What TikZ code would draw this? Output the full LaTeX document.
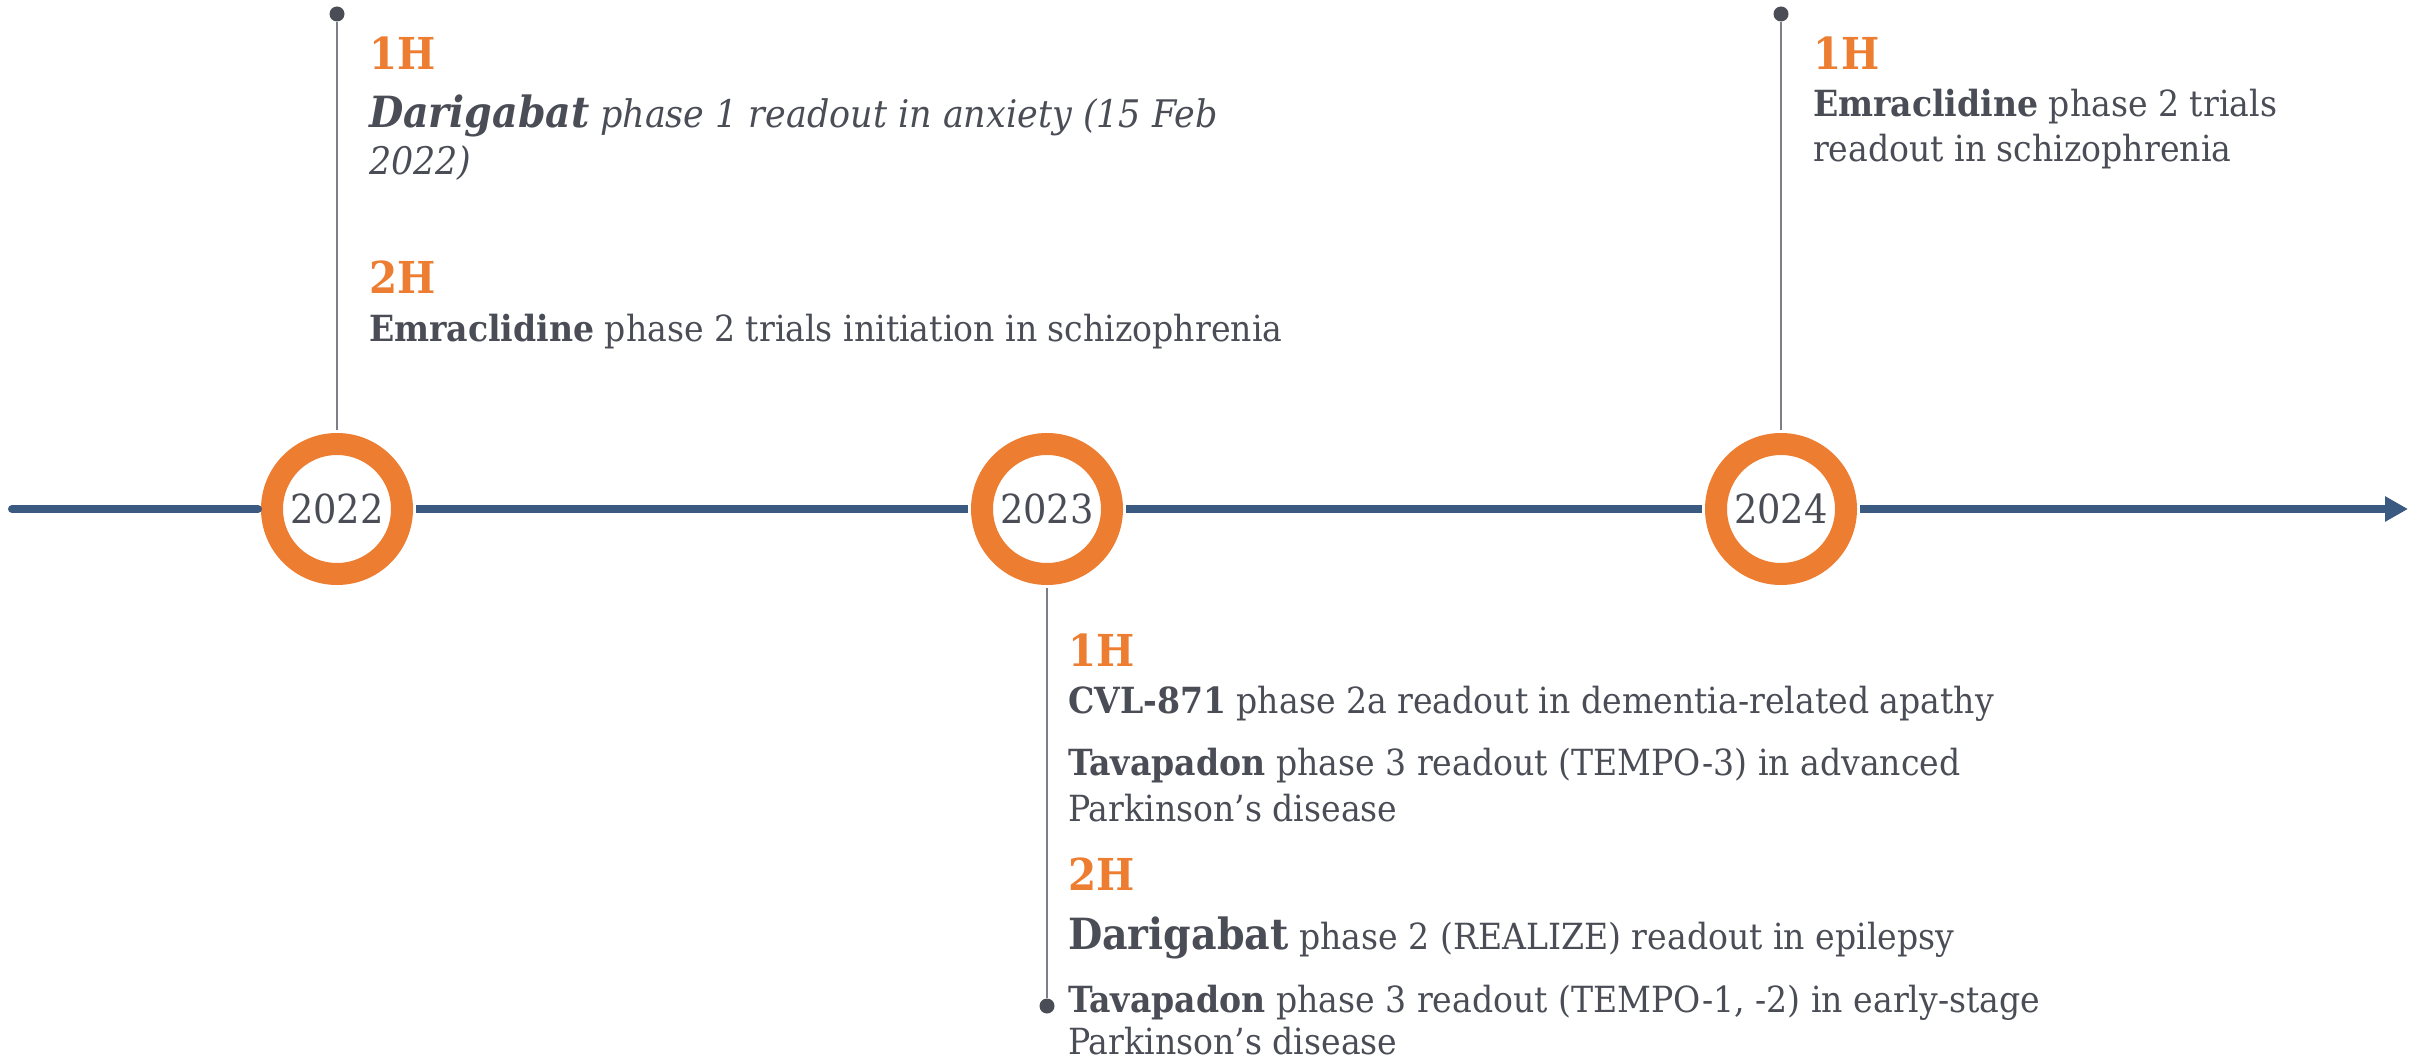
\documentclass[tikz,border=0pt]{standalone}
\usepackage{fontspec}
\setmainfont{DejaVu Serif}[FakeStretch=0.92]
\usetikzlibrary{arrows.meta}
\definecolor{orng}{HTML}{ED7D31}
\definecolor{axisblue}{HTML}{3B5A82}
\definecolor{txt}{HTML}{4A4D55}
\definecolor{stem}{HTML}{7E7F86}
\begin{document}
\begin{tikzpicture}[x=0.5pt,y=-0.5pt,
  txtline/.style={anchor=base west, inner sep=0pt, outer sep=0pt, text=txt, font=\fontsize{18}{21}\selectfont},
  half/.style={anchor=base west, inner sep=0pt, outer sep=0pt, text=orng, font=\fontsize{22}{25}\selectfont\bfseries},
  yearring/.style={circle, draw=orng, line width=11pt, fill=white, minimum size=65pt, inner sep=0pt, outer sep=7pt, text=txt, font=\fontsize{20}{22}\selectfont},
  enddot/.style={circle, fill=txt, minimum size=7.5pt, inner sep=0pt},
  stemline/.style={draw=stem, line width=1pt},
  axisline/.style={draw=axisblue, line width=4pt}
]
\useasboundingbox (0,0) rectangle (2433,1059);
% year rings
\node[yearring] (c2022) at (337,509) {2022};
\node[yearring] (c2023) at (1047,509) {2023};
\node[yearring] (c2024) at (1781,509) {2024};
% axis
\coordinate (axstart) at (12,509);
\coordinate (axend) at (2408,509);
\draw[axisline, line cap=round] (axstart) -- (c2022);
\draw[axisline] (c2022) -- (c2023);
\draw[axisline] (c2023) -- (c2024);
\draw[axisline, -{Triangle[length=11.5pt,width=12pt]}] (c2024) -- (axend);
% stems
\node[enddot] (d2022) at (337,14) {};
\node[enddot] (d2024) at (1781,14) {};
\node[enddot] (d2023) at (1047,1006) {};
\draw[stemline] (d2022) -- (c2022);
\draw[stemline] (d2024) -- (c2024);
\draw[stemline] (c2023) -- (d2023);
% 2022 block
\node[half] (h22a) at (369,70) {1H};
\node[txtline] (t22a) at (369,128) {{\fontsize{21.5}{24}\selectfont\bfseries\itshape Darigabat} {\fontsize{19}{22}\selectfont\itshape phase 1 readout in anxiety (15 Feb}};
\node[txtline] (t22b) at (369,175) {\fontsize{19}{22}\selectfont\itshape 2022)};
\node[half] (h22b) at (369,294) {2H};
\node[txtline] (t22c) at (369,342) {\textbf{Emraclidine} phase 2 trials initiation in schizophrenia};
% 2024 block
\node[half] (h24a) at (1813,70) {1H};
\node[txtline] (t24a) at (1813,117) {\textbf{Emraclidine} phase 2 trials};
\node[txtline] (t24b) at (1813,162) {readout in schizophrenia};
% 2023 block
\node[half] (h23a) at (1068,666) {1H};
\node[txtline] (t23a) at (1068,713) {\textbf{CVL-871} phase 2a readout in dementia-related apathy};
\node[txtline] (t23b) at (1068,775) {\textbf{Tavapadon} phase 3 readout (TEMPO-3) in advanced};
\node[txtline] (t23c) at (1068,821) {Parkinson’s disease};
\node[half] (h23b) at (1068,890) {2H};
\node[txtline] (t23d) at (1068,949) {{\fontsize{21.5}{24}\selectfont\bfseries Darigabat} phase 2 (REALIZE) readout in epilepsy};
\node[txtline] (t23e) at (1068,1012) {\textbf{Tavapadon} phase 3 readout (TEMPO-1, -2) in early-stage};
\node[txtline] (t23f) at (1068,1054) {Parkinson’s disease};
\end{tikzpicture}
\end{document}
